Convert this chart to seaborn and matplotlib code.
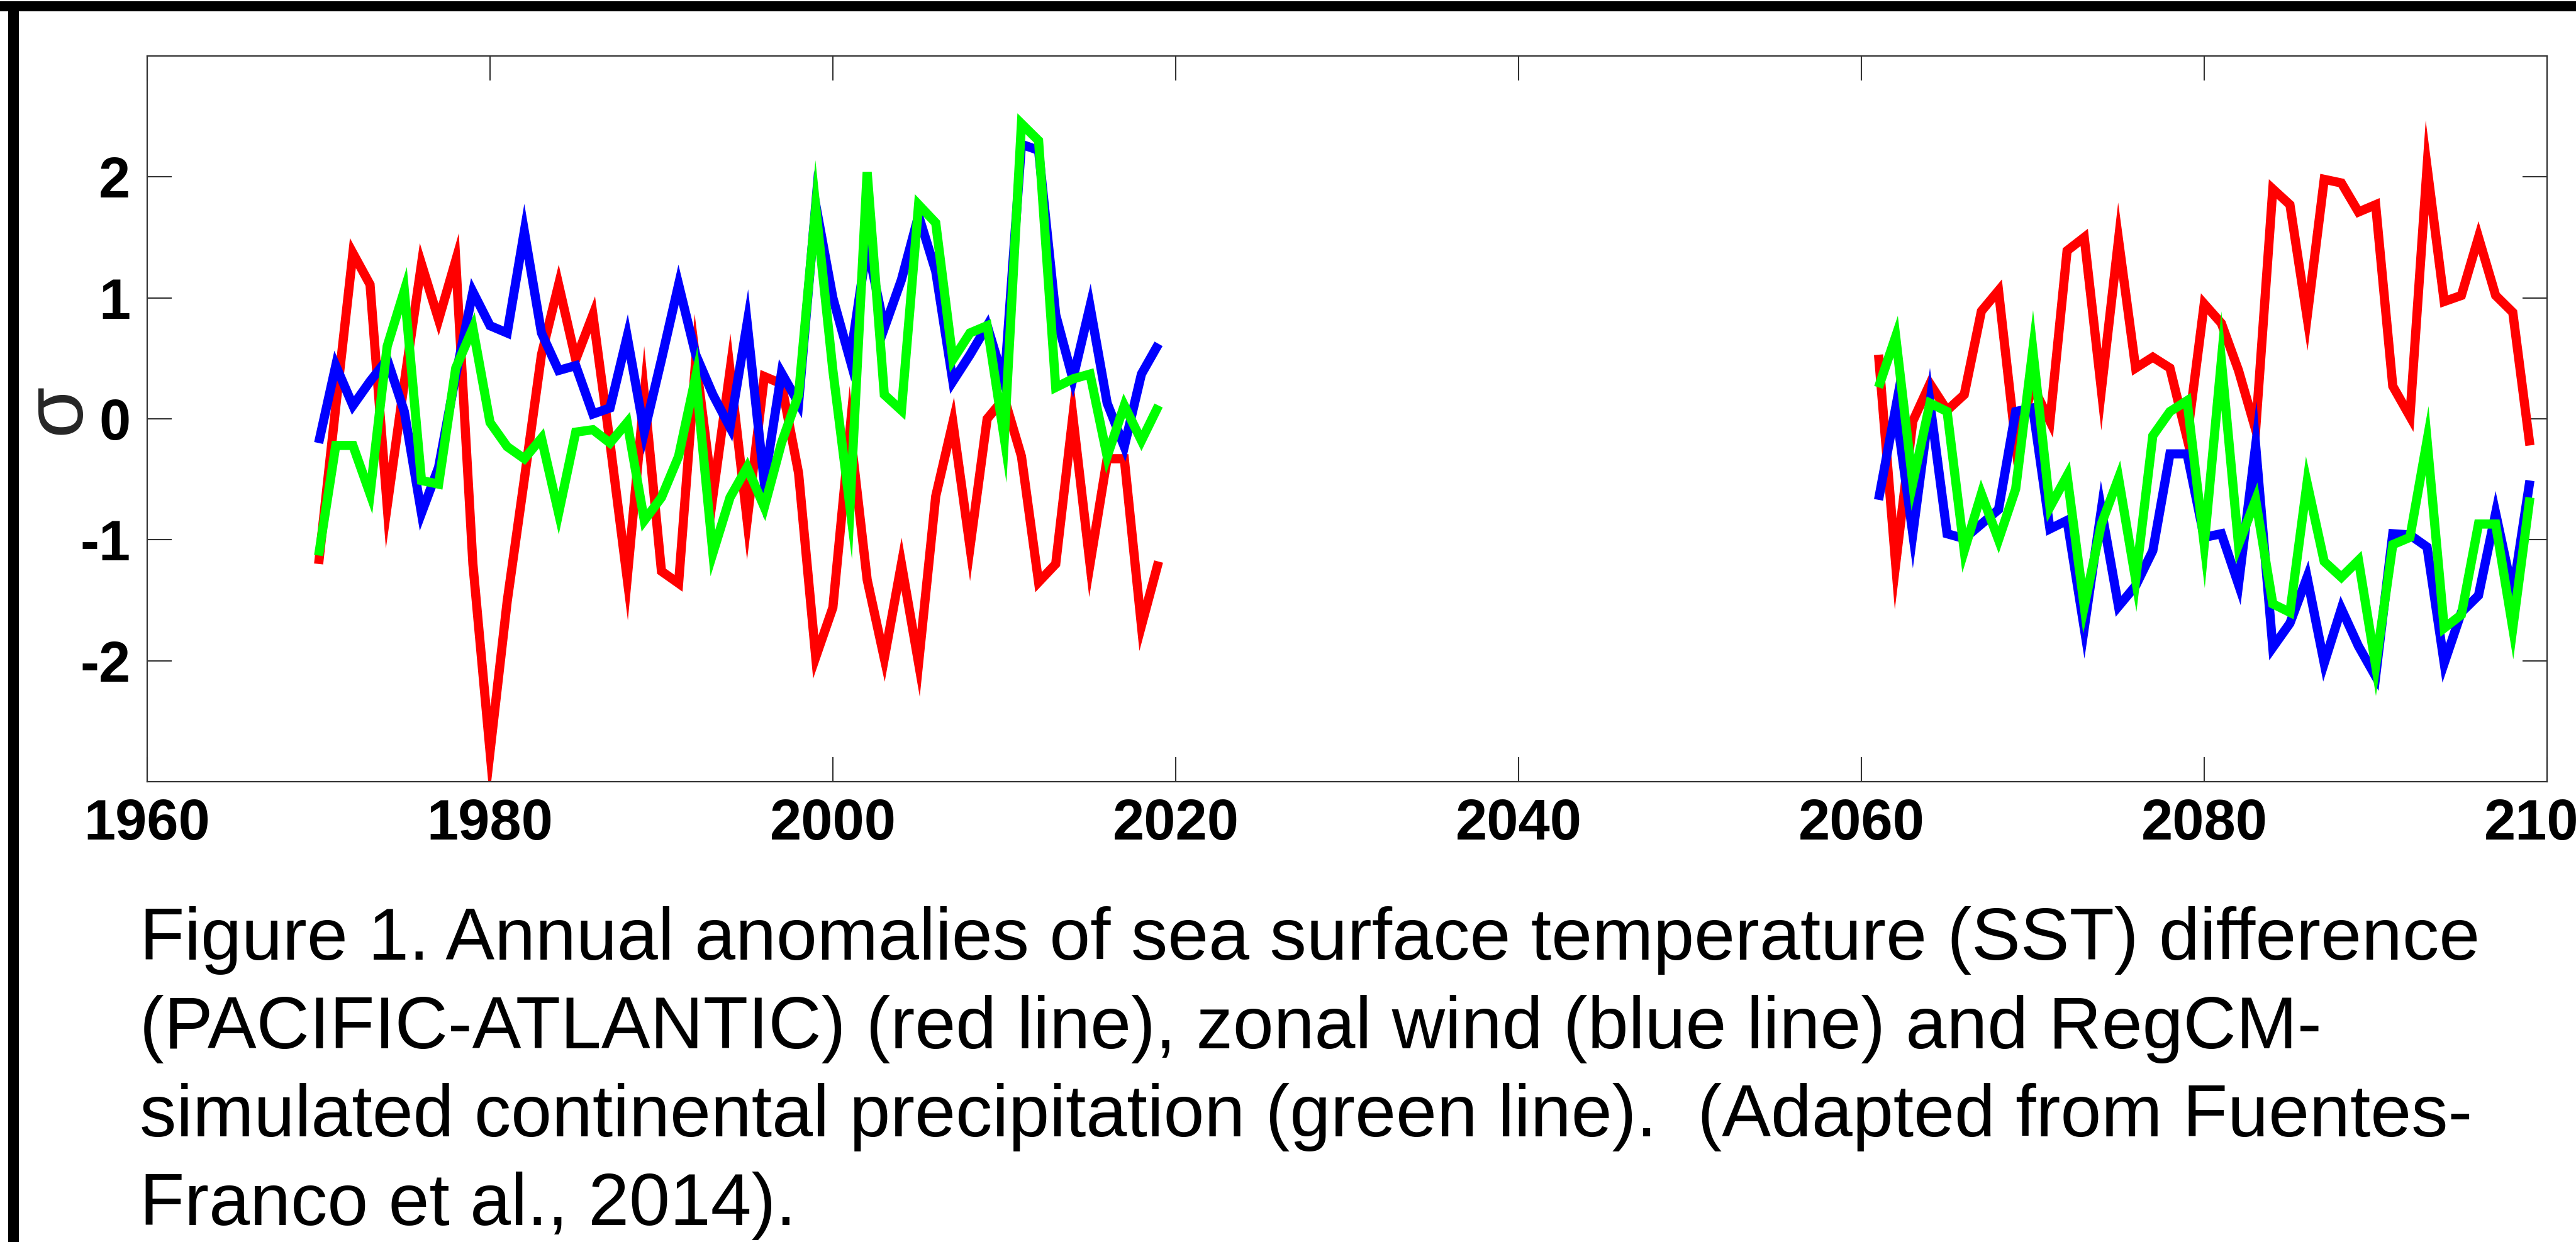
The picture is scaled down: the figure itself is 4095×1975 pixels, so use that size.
import numpy as np
import pandas as pd
import matplotlib
matplotlib.use("Agg")
import matplotlib.pyplot as plt
from matplotlib.patches import Rectangle
import seaborn as sns

# ---------------- data ----------------
years_hist = list(range(1970, 2020))
years_future = list(range(2061, 2100))

sst_hist = [-1.20, 0.10, 1.37, 1.11, -0.72, 0.30, 1.28, 0.82, 1.31, -1.20,
            -2.75, -1.51, -0.50, 0.53, 1.11, 0.49, 0.86, -0.20, -1.32, 0.20,
            -1.26, -1.36, 0.49, -0.64, 0.40, -0.84, 0.35, 0.29, -0.45, -1.97,
            -1.56, -0.09, -1.33, -1.98, -1.20, -2.02, -0.64, -0.03, -1.06, 0.00,
            0.17, -0.31, -1.35, -1.20, 0.02, -1.20, -0.33, -0.33, -1.71, -1.18]
wind_hist = [-0.20, 0.44, 0.11, 0.31, 0.49, 0.06, -0.78, -0.40, 0.36, 1.05,
             0.77, 0.71, 1.55, 0.71, 0.40, 0.44, 0.04, 0.09, 0.68, -0.11,
             0.49, 1.11, 0.53, 0.20, -0.07, 0.79, -0.53, 0.38, 0.13, 1.77,
             1.00, 0.49, 1.44, 0.75, 1.15, 1.68, 1.22, 0.31, 0.53, 0.77,
             0.30, 2.27, 2.22, 0.86, 0.33, 0.93, 0.13, -0.23, 0.37, 0.62]
prec_hist = [-1.13, -0.22, -0.22, -0.62, 0.60, 1.06, -0.51, -0.54, 0.42, 0.75,
             -0.03, -0.23, -0.33, -0.16, -0.78, -0.11, -0.09, -0.20, -0.03, -0.84,
             -0.65, -0.31, 0.35, -1.11, -0.65, -0.40, -0.73, -0.20, 0.20, 1.75,
             0.40, -0.73, 2.04, 0.20, 0.07, 1.77, 1.62, 0.49, 0.71, 0.77,
             -0.16, 2.44, 2.30, 0.26, 0.33, 0.37, -0.31, 0.11, -0.18, 0.11]

sst_future = [0.53, -1.20, -0.02, 0.29, 0.07, 0.20, 0.89, 1.06, -0.20, 0.27,
              -0.02, 1.39, 1.50, 0.24, 1.48, 0.42, 0.51, 0.42, -0.16, 0.95,
              0.79, 0.40, -0.09, 1.90, 1.77, 0.84, 1.98, 1.95, 1.71, 1.77,
              0.27, 0.02, 2.08, 0.97, 1.02, 1.50, 1.02, 0.88, -0.22]
wind_future = [-0.67, 0.09, -0.95, 0.13, -0.95, -0.99, -0.87, -0.75, 0.06, 0.09,
               -0.91, -0.84, -1.73, -0.75, -1.55, -1.38, -1.09, -0.29, -0.29, -0.98,
               -0.95, -1.37, -0.22, -1.89, -1.69, -1.31, -2.02, -1.57, -1.88, -2.13,
               -0.95, -0.96, -1.06, -2.02, -1.60, -1.46, -0.78, -1.44, -0.51]
prec_future = [0.26, 0.68, -0.53, 0.13, 0.06, -1.09, -0.62, -1.00, -0.58, 0.57,
               -0.73, -0.47, -1.55, -0.87, -0.49, -1.33, -0.14, 0.06, 0.15, -1.04,
               0.48, -1.04, -0.67, -1.53, -1.60, -0.53, -1.18, -1.31, -1.17, -2.04,
               -1.04, -0.98, -0.18, -1.73, -1.62, -0.87, -0.87, -1.73, -0.65]

x_ticks = [1960, 1980, 2000, 2020, 2040, 2060, 2080, 2100]
y_ticks = [-2, -1, 0, 1, 2]
y_label = "\u03c3"
caption_lines = [
    "Figure 1. Annual anomalies of sea surface temperature (SST) difference",
    "(PACIFIC-ATLANTIC) (red line), zonal wind (blue line) and RegCM-",
    "simulated continental precipitation (green line).  (Adapted from Fuentes-",
    "Franco et al., 2014).",
]

series = [
    ("SST difference", "#ff0000", sst_hist, sst_future),
    ("zonal wind", "#0000ff", wind_hist, wind_future),
    ("precipitation", "#00ff00", prec_hist, prec_future),
]

# ---------------- style ----------------
sns.set_theme(style="white")
plt.rcParams["font.family"] = ["Liberation Sans", "DejaVu Sans"]
plt.rcParams["axes.unicode_minus"] = False

W, H = 4095, 1975
fig = plt.figure(figsize=(W / 100, H / 100), dpi=100)
fig.patch.set_facecolor("white")

ax_l, ax_r, ax_t, ax_b = 234, 4049, 89, 1243
ax = fig.add_axes([ax_l / W, 1 - ax_b / H, (ax_r - ax_l) / W, (ax_b - ax_t) / H])

for name, color, vh, vf in series:
    for yrs, vals in ((years_hist, vh), (years_future, vf)):
        df = pd.DataFrame({"year": yrs, "value": vals})
        sns.lineplot(data=df, x="year", y="value", color=color, lw=10.5,
                     ax=ax, legend=False)
for line in ax.get_lines():
    line.set_linewidth(10.5)
    line.set_solid_joinstyle("miter")
    line.set_solid_capstyle("butt")

ax.set_xlim(1960, 2100)
ax.set_ylim(-3, 3)
ax.set_xticks(x_ticks)
ax.set_yticks(y_ticks)
ax.set_xticklabels([str(t) for t in x_ticks])
ax.set_yticklabels([str(t) for t in y_ticks])
ax.set_xlabel("")
ax.set_ylabel(y_label, fontsize=95, fontweight="normal", rotation=90,
              ha="center", va="center")
ax.yaxis.set_label_coords((92 - ax_l) / (ax_r - ax_l), (ax_b - 650) / (ax_b - ax_t))

for sp in ax.spines.values():
    sp.set_color("#333333")
    sp.set_linewidth(1.6)

ax.tick_params(axis="both", which="major", direction="in", length=28, width=1.5,
               color="#333333", top=True, right=True, bottom=True, left=True,
               labelsize=65, pad=19)
for lab in ax.get_xticklabels() + ax.get_yticklabels():
    lab.set_fontweight("bold")
    lab.set_color("black")
ax.grid(False)

# black frame lines (top and left)
fig.add_artist(Rectangle((0, 1 - 18 / H), 1, 16 / H, transform=fig.transFigure,
                         facecolor="black", edgecolor="none"))
fig.add_artist(Rectangle((13 / W, 0), 17 / W, 1 - 2 / H, transform=fig.transFigure,
                         facecolor="black", edgecolor="none"))

# caption, one text per printed line at the reference baselines
baselines = [1526, 1667, 1807, 1948]
for txt, base in zip(caption_lines, baselines):
    fig.text(222 / W, 1 - base / H, txt, fontsize=84, ha="left", va="baseline",
             color="black")

fig.savefig("out.png", dpi=100, facecolor="white")
